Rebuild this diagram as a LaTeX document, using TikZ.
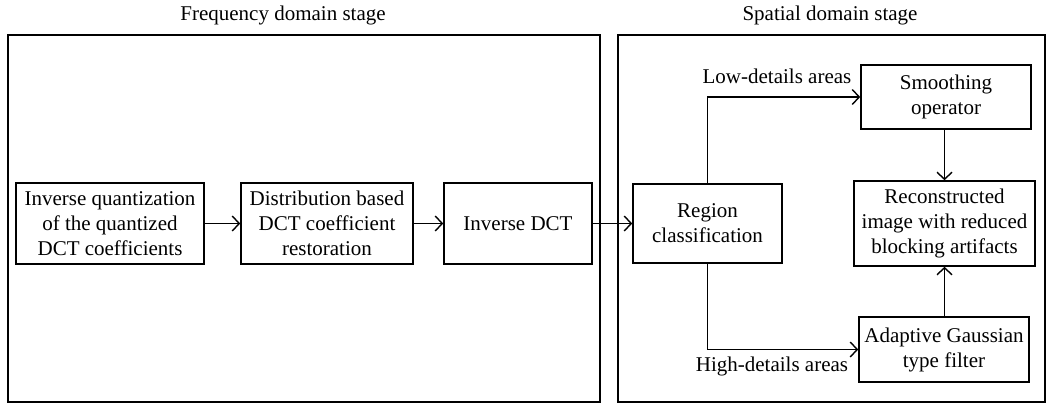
\documentclass[tikz,border=0pt]{standalone}
\usepackage{fontspec}
\setmainfont{Liberation Serif}
\usetikzlibrary{arrows.meta}
\begin{document}
\begin{tikzpicture}[x=1pt,y=-1pt,
  box/.style={draw, line width=1.6pt, align=center, inner sep=0pt,
    font=\fontsize{21}{25}\selectfont},
  frame/.style={draw, line width=1.6pt},
  lbl/.style={font=\fontsize{21}{25}\selectfont, inner sep=0pt},
  conn/.style={line width=1.6pt, -{Straight Barb[length=7pt,width=15pt,line width=1.4pt]}}]
\useasboundingbox (0,0) rectangle (1047,404);
% stage frames
\draw[frame] (8,35) rectangle (600,402);
\draw[frame] (618,35) rectangle (1045,402);
\node[lbl] (t1) at (283,15) {Frequency domain stage};
\node[lbl] (t2) at (830,15) {Spatial domain stage};
% boxes
\node[box, minimum width=188pt, minimum height=81pt] (iq) at (110,223.5)
  {Inverse quantization\\of the quantized\\DCT coefficients};
\node[box, minimum width=172pt, minimum height=81pt] (dist) at (327,223.5)
  {Distribution based\\DCT coefficient\\restoration};
\node[box, minimum width=148pt, minimum height=81pt] (idct) at (518,223.5)
  {Inverse DCT};
\node[box, minimum width=149pt, minimum height=79pt] (reg) at (707.5,223.5)
  {Region\\classification};
\node[box, minimum width=170pt, minimum height=64pt] (smo) at (946,97)
  {Smoothing\\operator};
\node[box, minimum width=181pt, minimum height=85pt] (rec) at (944.5,223.5)
  {Reconstructed\\image with reduced\\blocking artifacts};
\node[box, minimum width=170pt, minimum height=65pt] (agf) at (944,349.5)
  {Adaptive Gaussian\\type filter};
% connectors
\draw[conn] (iq) -- (dist);
\draw[conn] (dist) -- (idct);
\draw[conn] (idct) -- (reg);
\draw[conn] (reg.north) |- (smo.west);
\draw[conn] (reg.south) |- (agf.west);
\draw[conn] (smo.south -| rec.north) -- (rec.north);
\draw[conn] (agf.north -| rec.south) -- (rec.south);
\node[lbl] (low) at (777,76) {Low-details areas};
\node[lbl] (high) at (772,366) {High-details areas};
\end{tikzpicture}
\end{document}
